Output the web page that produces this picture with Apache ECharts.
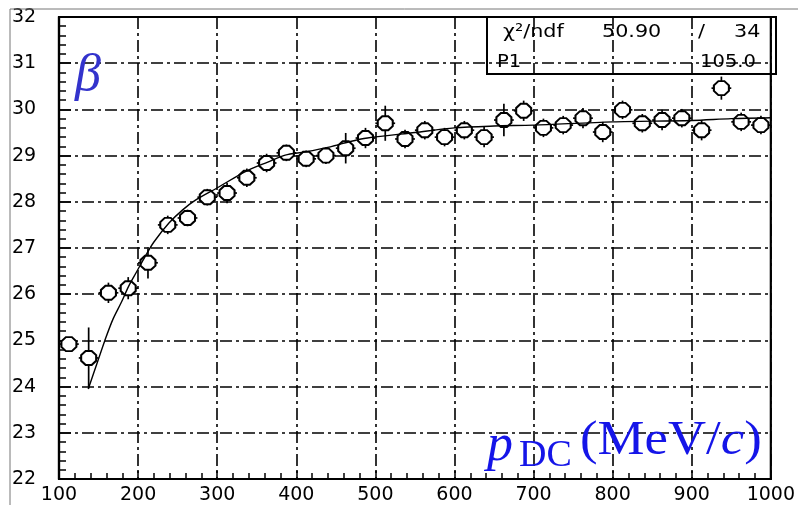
<!DOCTYPE html>
<html>
<head>
<meta charset="utf-8">
<script src="https://cdn.jsdelivr.net/npm/echarts@6/dist/echarts.min.js"></script>
<style>
  html, body { margin: 0; padding: 0; background: #fff; }
  #chart { width: 798px; height: 505px; }
</style>
</head>
<body>
<div id="chart"></div>
<script>
// Momentum bin centres (MeV/c), 25 MeV/c wide bins
const momentum = [112.5, 137.5, 162.5, 187.5, 212.5, 237.5, 262.5, 287.5, 312.5, 337.5,
                  362.5, 387.5, 412.5, 437.5, 462.5, 487.5, 512.5, 537.5, 562.5, 587.5,
                  612.5, 637.5, 662.5, 687.5, 712.5, 737.5, 762.5, 787.5, 812.5, 837.5,
                  862.5, 887.5, 912.5, 937.5, 962.5, 987.5];
// Measured beta values per bin
const betaValues = [24.92, 24.62, 26.03, 26.13, 26.68, 27.50, 27.65, 28.10, 28.19, 28.52,
                    28.84, 29.06, 28.93, 29.00, 29.16, 29.38, 29.70, 29.36, 29.55, 29.40,
                    29.55, 29.40, 29.77, 29.97, 29.60, 29.66, 29.81, 29.51, 29.99, 29.70,
                    29.77, 29.81, 29.55, 30.46, 29.73, 29.66];
// Statistical errors on beta
const betaErrors = [0.15, 0.66, 0.22, 0.24, 0.34, 0.20, 0.18, 0.18, 0.22, 0.20,
                    0.20, 0.18, 0.18, 0.18, 0.33, 0.22, 0.38, 0.20, 0.20, 0.20,
                    0.20, 0.22, 0.35, 0.22, 0.20, 0.20, 0.22, 0.22, 0.20, 0.20,
                    0.22, 0.20, 0.22, 0.25, 0.20, 0.20];
const binHalfWidth = 12.5;

// Fitted curve, sampled
const fitMomentum = [137, 148, 158, 168, 179, 188, 198, 209, 220, 239, 256, 273, 302, 335, 364,
                     386, 411, 443, 467, 490, 550, 600, 650, 700, 800, 900, 950, 1000];
const fitBeta = [23.95, 24.50, 25.00, 25.45, 25.83, 26.17, 26.48, 26.82, 27.13, 27.54, 27.82, 28.04,
                 28.32, 28.65, 28.86, 29.01, 29.08, 29.19, 29.30, 29.38, 29.50, 29.60, 29.64,
                 29.66, 29.73, 29.76, 29.80, 29.82];

// Axis tick values
const xTicks = [100, 200, 300, 400, 500, 600, 700, 800, 900, 1000];
const yTicks = [22, 23, 24, 25, 26, 27, 28, 29, 30, 31, 32];

// Fit statistics
const chi2Text = '50.90';
const ndfText = '34';
const p1Text = '105.0';

const points = momentum.map((m, i) => [m, betaValues[i], betaErrors[i]]);
const fitLine = fitMomentum.map((m, i) => [m, fitBeta[i]]);

const chart = echarts.init(document.getElementById('chart'), null, { renderer: 'canvas' });
const sans = 'DejaVu Sans, Liberation Sans, Arial, sans-serif';
const serif = 'Liberation Serif, Times New Roman, serif';
const labelFont = { color: '#000', fontFamily: sans, fontSize: 19 };
const gridDash = { color: '#000', width: 1.6, type: [12, 4, 3, 4] };

function statText(x, y, text, size) {
  return { type: 'text', x: x, y: y, scaleX: 1.15, z: 11,
           style: { text: text, fontSize: size, fontFamily: sans, fill: '#000' } };
}

chart.setOption({
  animation: false,
  backgroundColor: '#fff',
  grid: { left: 59, top: 17, right: 21, bottom: 26, show: true, borderColor: '#000', borderWidth: 2.2, backgroundColor: 'transparent' },
  xAxis: {
    type: 'value', min: xTicks[0], max: xTicks[xTicks.length - 1], interval: 100,
    axisLine: { show: true, lineStyle: { color: '#000', width: 2.2 } },
    axisTick: { show: true, inside: true, length: 8, lineStyle: { color: '#000', width: 1.5 } },
    minorTick: { show: true, splitNumber: 5, length: 6, lineStyle: { color: '#000', width: 1.5 } },
    splitLine: { show: true, lineStyle: gridDash },
    axisLabel: Object.assign({ margin: 7, showMinLabel: true, showMaxLabel: true, formatter: v => String(v) }, labelFont)
  },
  yAxis: {
    type: 'value', min: yTicks[0], max: yTicks[yTicks.length - 1], interval: 1,
    axisLine: { show: true, lineStyle: { color: '#000', width: 2.2 } },
    axisTick: { show: true, inside: true, length: 12, lineStyle: { color: '#000', width: 1.5 } },
    minorTick: { show: true, splitNumber: 5, length: 7, lineStyle: { color: '#000', width: 1.5 } },
    splitLine: { show: true, lineStyle: gridDash },
    axisLabel: Object.assign({ margin: 47, align: 'left', showMinLabel: true, showMaxLabel: true, formatter: v => String(v) }, labelFont)
  },
  series: [
    {
      type: 'custom',
      name: 'errors',
      data: points,
      z: 2,
      renderItem: function (params, api) {
        const x = api.value(0), y = api.value(1), e = api.value(2);
        const top = api.coord([x, y + e]);
        const bot = api.coord([x, y - e]);
        const lft = api.coord([x - binHalfWidth, y]);
        const rgt = api.coord([x + binHalfWidth, y]);
        const st = { stroke: '#000', lineWidth: 1.7 };
        return {
          type: 'group',
          children: [
            { type: 'line', shape: { x1: top[0], y1: top[1], x2: bot[0], y2: bot[1] }, style: st },
            { type: 'line', shape: { x1: lft[0], y1: lft[1], x2: rgt[0], y2: rgt[1] }, style: st }
          ]
        };
      }
    },
    {
      type: 'scatter',
      name: 'beta',
      data: points.map(p => [p[0], p[1]]),
      z: 3,
      symbol: 'path://M3,0 L7,0 L10,3 L10,7 L7,10 L3,10 L0,7 L0,3 Z',
      symbolSize: [15, 14],
      itemStyle: { color: '#fff', opacity: 1, borderColor: '#000', borderWidth: 2 },
      emphasis: { disabled: true }
    },
    {
      type: 'line',
      name: 'fit',
      data: fitLine,
      z: 4,
      smooth: 0.3,
      showSymbol: false,
      lineStyle: { color: '#000', width: 1.4 }
    }
  ],
  graphic: [
    // outer pad frame
    { type: 'rect', shape: { x: 10, y: 9, width: 800, height: 510 }, style: { fill: 'none', stroke: '#777', lineWidth: 1 }, z: 1 },
    // fit statistics box
    { type: 'rect', shape: { x: 487, y: 17, width: 289, height: 57 }, style: { fill: 'none', stroke: '#000', lineWidth: 2 }, z: 10 },
    statText(503, 23, 'χ²/ndf', 18),
    statText(602, 23, chi2Text, 18),
    statText(698, 23, '/', 18),
    statText(734, 23, ndfText, 18),
    statText(497, 54, 'P1', 17),
    statText(700, 54, p1Text, 17),
    // axis titles
    { type: 'text', x: 75, y: 50, z: 12, style: { text: 'β', fontSize: 52, fontStyle: 'italic', fontFamily: serif, fill: '#3333cc' } },
    { type: 'text', x: 487, y: 420, z: 12, style: { text: 'p', fontSize: 52, fontStyle: 'italic', fontFamily: serif, fill: '#1515e8' } },
    { type: 'text', x: 519, y: 437, z: 12, style: { text: 'DC', fontSize: 38, fontFamily: serif, fill: '#1515e8' } },
    { type: 'text', x: 580, y: 417, scaleX: 1.1, z: 12, style: {
        text: '{n|(MeV/}{i|c}{n|)}',
        rich: {
          n: { fontSize: 48, fontFamily: serif, fill: '#1515e8' },
          i: { fontSize: 48, fontStyle: 'italic', fontFamily: serif, fill: '#1515e8' }
        }
      } }
  ]
});
</script>
</body>
</html>
